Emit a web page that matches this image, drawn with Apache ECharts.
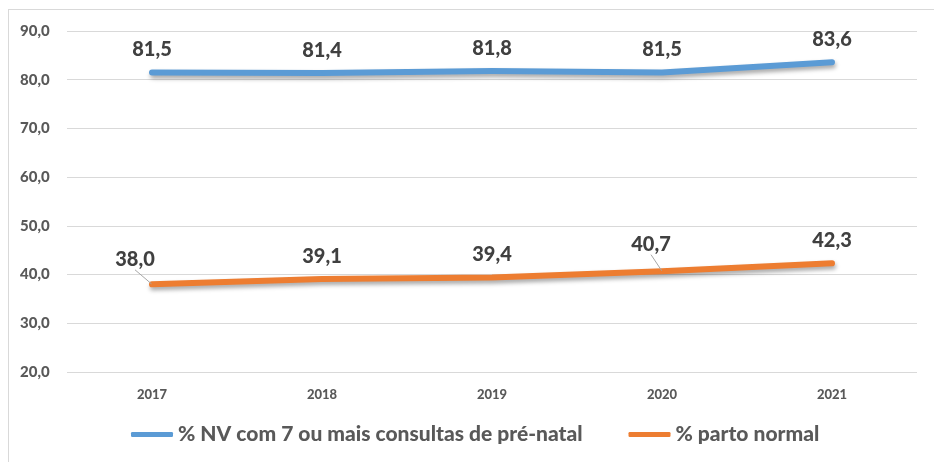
<!DOCTYPE html>
<html>
<head>
<meta charset="utf-8">
<script src="https://cdn.jsdelivr.net/npm/echarts@6/dist/echarts.min.js"></script>
<style>
  html, body { margin: 0; padding: 0; background: #fff; }
  #chart { width: 934px; height: 462px; }
  .frame { position: absolute; left: 8px; top: 9px; width: 940px; height: 460px; border: 1px solid #d9d9d9; pointer-events: none; }
</style>
</head>
<body>
<div class="frame"></div>
<div id="chart"></div>
<script>
  const anos = ['2017', '2018', '2019', '2020', '2021'];
  const preNatal = [81.5, 81.4, 81.8, 81.5, 83.6];
  const partoNormal = [38.0, 39.1, 39.4, 40.7, 42.3];
  const nomes = ['% NV com 7 ou mais consultas de pré-natal', '% parto normal'];

  const fmt = v => v.toFixed(1).replace('.', ',');
  const fonte = 'Lato, "Open Sans", sans-serif';
  const peso = 900;

  // deslocamento manual de alguns rótulos (como no Excel)
  const ajusteLaranja = [[-17, -2], [0, 0], [0, 0], [-11, -4], [0, 0]];

  const myChart = echarts.init(document.getElementById('chart'));

  let labelCfg = {
    show: true,
    position: 'top',
    distance: 12,
    fontFamily: fonte,
    fontWeight: peso,
    fontSize: 20,
    color: '#404040',
    formatter: p => fmt(p.value)
  };

  let sombra = { width: 6, cap: 'round', join: 'round', shadowColor: 'rgba(0,0,0,0.35)', shadowBlur: 4, shadowOffsetY: 3, shadowOffsetX: 1 };

  // só os rótulos deslocados têm linha de chamada
  let dadosLaranja = partoNormal.map((v, i) => ({
    value: v,
    labelLine: { show: ajusteLaranja[i][0] !== 0 }
  }));

  let option = {
    animation: false,
    grid: { left: 67, right: 17, top: 31, bottom: 90 },
    legend: {
      bottom: 12,
      left: 126,
      itemWidth: 42,
      itemHeight: 5,
      itemGap: 46,
      icon: 'roundRect',
      textStyle: { fontFamily: fonte, fontWeight: peso, fontSize: 21, color: '#595959' },
      data: nomes
    },
    xAxis: {
      type: 'category',
      data: anos,
      axisLine: { show: false },
      axisTick: { show: false },
      axisLabel: { fontFamily: fonte, fontWeight: peso, fontSize: 13, color: '#595959', margin: 16 }
    },
    yAxis: {
      type: 'value',
      min: 20,
      max: 90,
      interval: 10,
      axisLabel: {
        fontFamily: fonte, fontWeight: peso, fontSize: 15, color: '#595959',
        formatter: v => fmt(v), align: 'left', margin: 47
      },
      splitLine: { lineStyle: { color: '#d9d9d9', width: 1 } }
    },
    series: [
      {
        name: nomes[0],
        type: 'line',
        data: preNatal,
        symbol: 'circle',
        symbolSize: 1,
        itemStyle: { color: '#5B9BD5' },
        color: '#5B9BD5',
        lineStyle: sombra,
        label: labelCfg
      },
      {
        name: nomes[1],
        type: 'line',
        data: dadosLaranja,
        symbol: 'circle',
        symbolSize: 1,
        itemStyle: { color: '#ED7D31' },
        color: '#ED7D31',
        lineStyle: sombra,
        label: labelCfg,
        labelLine: { show: false, lineStyle: { color: '#a6a6a6', width: 1 } },
        labelLayout: function (p) {
          const d = ajusteLaranja[p.dataIndex];
          return { dx: d[0], dy: d[1] };
        }
      }
    ]
  };

  myChart.setOption(option);
  window.addEventListener('resize', function () {
    myChart.resize();
  });
</script>
</body>
</html>
